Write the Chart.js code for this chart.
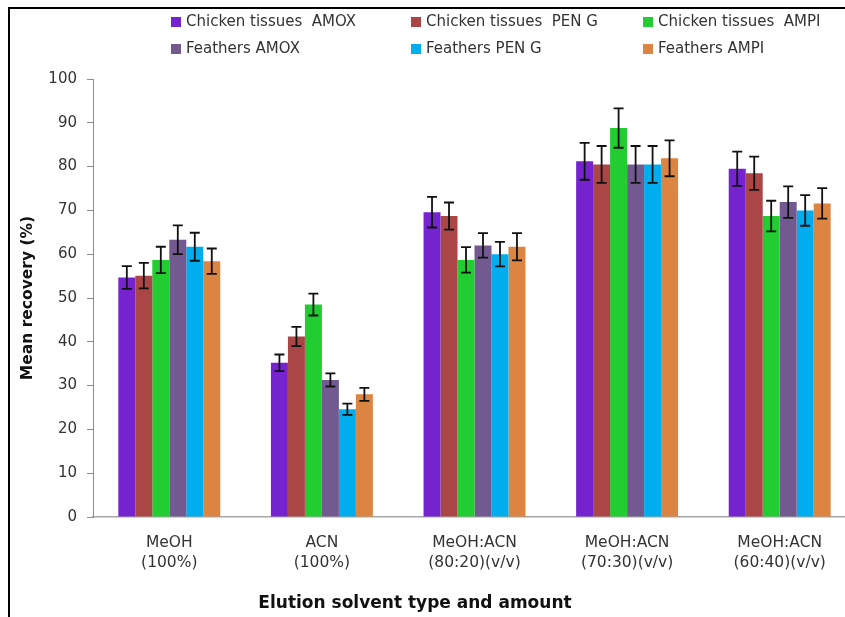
<!DOCTYPE html>
<html>
<head>
<meta charset="utf-8">
<script src="https://cdn.jsdelivr.net/npm/chart.js@4.4.1/dist/chart.umd.min.js"></script>
<style>
  html, body { margin: 0; padding: 0; background: #fff; overflow: hidden; width: 845px; height: 617px; }
  #wrap { position: absolute; left: 0; top: 0; width: 858px; height: 617px; }
</style>
</head>
<body>
<div id="wrap"><canvas id="c" width="858" height="617"></canvas></div>
<script>
// ---- data ----
const categories = [
  ['MeOH', '(100%)'],
  ['ACN', '(100%)'],
  ['MeOH:ACN', '(80:20)(v/v)'],
  ['MeOH:ACN', '(70:30)(v/v)'],
  ['MeOH:ACN', '(60:40)(v/v)']
];
const seriesNames = [
  'Chicken tissues  AMOX', 'Chicken tissues  PEN G', 'Chicken tissues  AMPI',
  'Feathers AMOX', 'Feathers PEN G', 'Feathers AMPI'
];
const chickenAmox    = [54.7, 35.2, 69.6, 81.2, 79.5];
const chickenPenG    = [55.1, 41.2, 68.7, 80.5, 78.5];
const chickenAmpi    = [58.7, 48.5, 58.7, 88.8, 68.7];
const feathersAmox   = [63.3, 31.3, 62.0, 80.5, 71.9];
const feathersPenG   = [61.7, 24.6, 60.0, 80.5, 70.0];
const feathersAmpi   = [58.4, 28.0, 61.7, 81.9, 71.6];
const chickenAmoxErr  = [2.6, 1.9, 3.5, 4.2, 3.9];
const chickenPenGErr  = [2.9, 2.2, 3.1, 4.2, 3.8];
const chickenAmpiErr  = [3.0, 2.5, 2.9, 4.5, 3.5];
const feathersAmoxErr = [3.3, 1.5, 2.8, 4.2, 3.6];
const feathersPenGErr = [3.2, 1.3, 2.8, 4.2, 3.5];
const feathersAmpiErr = [2.9, 1.5, 3.1, 4.1, 3.5];
const yTicks = [0, 10, 20, 30, 40, 50, 60, 70, 80, 90, 100];
const yTitle = 'Mean recovery (%)';
const xTitle = 'Elution solvent type and amount';

const seriesValues = [chickenAmox, chickenPenG, chickenAmpi, feathersAmox, feathersPenG, feathersAmpi];
const seriesErrors = [chickenAmoxErr, chickenPenGErr, chickenAmpiErr, feathersAmoxErr, feathersPenGErr, feathersAmpiErr];
const colors = ['#7523CF', '#AA4646', '#21CD31', '#725A90', '#00AEEF', '#DC8441'];

const datasets = seriesNames.map((name, i) => ({
  label: name,
  data: seriesValues[i],
  errors: seriesErrors[i],
  backgroundColor: colors[i],
  borderWidth: 0,
  barPercentage: 1.0,
  categoryPercentage: 0.668
}));

// ---- plugins ----
const frame = {
  id: 'frame',
  beforeDraw(chart) {
    const ctx = chart.ctx;
    ctx.save();
    ctx.fillStyle = '#fff';
    ctx.fillRect(0, 0, chart.width, chart.height);
    ctx.strokeStyle = '#000';
    ctx.lineWidth = 2;
    ctx.beginPath();
    ctx.moveTo(9, chart.height);
    ctx.lineTo(9, 8);
    ctx.lineTo(chart.width, 8);
    ctx.stroke();
    ctx.restore();
  }
};

const errorBars = {
  id: 'errorBars',
  afterDatasetsDraw(chart) {
    const ctx = chart.ctx;
    const y = chart.scales.y;
    ctx.save();
    ctx.strokeStyle = '#111';
    ctx.lineWidth = 1.8;
    chart.data.datasets.forEach((ds, di) => {
      const meta = chart.getDatasetMeta(di);
      meta.data.forEach((bar, i) => {
        const v = ds.data[i], e = ds.errors[i];
        const yt = y.getPixelForValue(v + e);
        const yb = y.getPixelForValue(v - e);
        const x = bar.x;
        const cap = 5;
        ctx.beginPath();
        ctx.moveTo(x, yt); ctx.lineTo(x, yb);
        ctx.moveTo(x - cap, yt); ctx.lineTo(x + cap, yt);
        ctx.moveTo(x - cap, yb); ctx.lineTo(x + cap, yb);
        ctx.stroke();
      });
    });
    ctx.restore();
  }
};

const gridLegend = {
  id: 'gridLegend',
  afterDraw(chart) {
    const ctx = chart.ctx;
    const colX = [171, 411, 643];
    const rowY = [22, 49];
    ctx.save();
    ctx.font = '15px "DejaVu Sans"';
    ctx.textBaseline = 'middle';
    ctx.textAlign = 'left';
    chart.data.datasets.forEach((ds, i) => {
      const cx = colX[i % 3], cy = rowY[Math.floor(i / 3)];
      ctx.fillStyle = ds.backgroundColor;
      ctx.fillRect(cx, cy - 5, 10, 10);
      ctx.fillStyle = '#333';
      ctx.fillText(ds.label, cx + 15, cy);
    });
    // x axis title
    ctx.font = 'bold 17px "DejaVu Sans"';
    ctx.fillStyle = '#111';
    ctx.textAlign = 'center';
    ctx.fillText(xTitle, 415, 604);
    ctx.restore();
  }
};

new Chart(document.getElementById('c'), {
  type: 'bar',
  data: { labels: categories, datasets },
  options: {
    responsive: false,
    animation: false,
    layout: { padding: { left: 9, top: 79, right: 2, bottom: 0 } },
    plugins: {
      legend: { display: false },
      tooltip: { enabled: false }
    },
    scales: {
      x: {
        offset: true,
        grid: { display: false, drawTicks: false },
        border: { display: true, color: '#a6a6a6', width: 1.5 },
        ticks: {
          padding: 16,
          color: '#333',
          font: { family: 'DejaVu Sans', size: 15.5, lineHeight: 1.3 },
          maxRotation: 0, autoSkip: false
        },
        afterFit(scale) { scale.height = 100; }
      },
      y: {
        min: 0, max: 100,
        afterBuildTicks(scale) { scale.ticks = yTicks.map(v => ({ value: v })); },
        grid: { drawOnChartArea: false, drawTicks: true, tickLength: 6, color: '#8c8c8c' },
        border: { display: true, color: '#8c8c8c', width: 1 },
        ticks: {
          padding: 10,
          color: '#333',
          font: { family: 'DejaVu Sans', size: 15 }
        },
        title: {
          display: true,
          text: yTitle,
          color: '#111',
          padding: { top: 10, bottom: 0 },
          font: { family: 'DejaVu Sans', size: 15.5, weight: 'bold', lineHeight: 1.2 }
        },
        afterFit(scale) { scale.width = 84; }
      }
    }
  },
  plugins: [frame, errorBars, gridLegend]
});
</script>
</body>
</html>
